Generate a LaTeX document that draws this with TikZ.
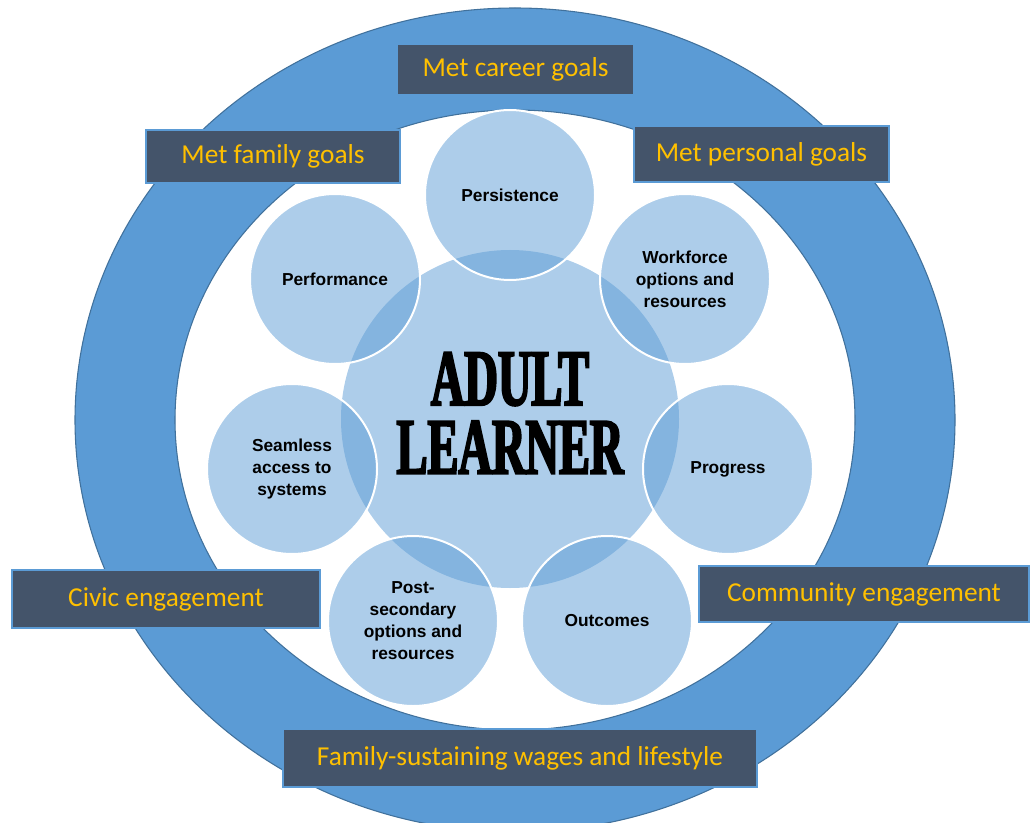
\documentclass[tikz,border=0pt]{standalone}
\usepackage{fontspec}
\setmainfont{Liberation Sans}
\newfontfamily\goalfont{Carlito}
\newfontfamily\hubfont{Liberation Serif}[FakeStretch=0.58,FakeBold=2.5]
\usepackage{tikz}
\definecolor{ringblue}{HTML}{5B9BD5}
\definecolor{ringedge}{HTML}{41719C}
\definecolor{slate}{HTML}{44546A}
\definecolor{gold}{HTML}{FFC000}
\tikzset{
  goal/.style 2 args={draw=ringblue, line width=1pt, fill=slate, text=gold,
    minimum width=#1*0.75pt, minimum height=#2*0.75pt, inner sep=0pt,
    font=\goalfont\fontsize{20.5}{24}\selectfont},
  sat/.style={circle, draw=white, line width=1.5pt, fill=ringblue, fill opacity=0.5,
    text opacity=1, minimum size=127.5pt, inner sep=0pt, align=center,
    font=\bfseries\fontsize{13}{16.5}\selectfont},
  hub/.style={circle, fill=ringblue, fill opacity=0.5, text opacity=1,
    minimum size=253.5pt, inner sep=0pt, align=center, text depth=9pt,
    font=\hubfont\bfseries\fontsize{60}{58.5}\selectfont}
}
\begin{document}
\begin{tikzpicture}[x=0.75pt,y=-0.75pt]
	\useasboundingbox (0,0) rectangle (1030,823);
	
	% outer ring
	\draw[ringedge, fill=ringblue, even odd rule, line width=0.8pt]
		(515,420) ellipse [x radius=330pt, y radius=309pt]
		(515,420) ellipse [x radius=255pt, y radius=232.5pt];
	
	% centre and the seven circles round it
	\node[hub] (learner) at (510,419) {ADULT\\[-7pt]LEARNER};
	
	\node[sat] (persist) at (510,195) {Persistence};
	\node[sat] (work) at (685,279) {Workforce\\options and\\resources};
	\node[sat] (progress) at (728,469) {Progress};
	\node[sat] (outcome) at (607,621) {Outcomes};
	\node[sat] (postsec) at (413,621) {Post-\\secondary\\options and\\resources};
	\node[sat] (access) at (292,469) {Seamless\\access to\\systems};
	\node[sat] (perform) at (335,279) {Performance};
	
	% goal boxes on the ring
	\node[goal={237}{51}] (career) at (515.5,69.5) {Met career goals};
	\node[goal={254}{53}] (family) at (273,156.5) {Met family goals};
	\node[goal={255}{56}] (personal) at (761.5,154) {Met personal goals};
	\node[goal={308}{58}] (civic) at (166,599) {Civic engagement};
	\node[goal={330}{56}] (community) at (864,594) {Community engagement};
	\node[goal={474}{58}] (wages) at (520,758) {Family-sustaining wages and lifestyle};
\end{tikzpicture}
\end{document}
